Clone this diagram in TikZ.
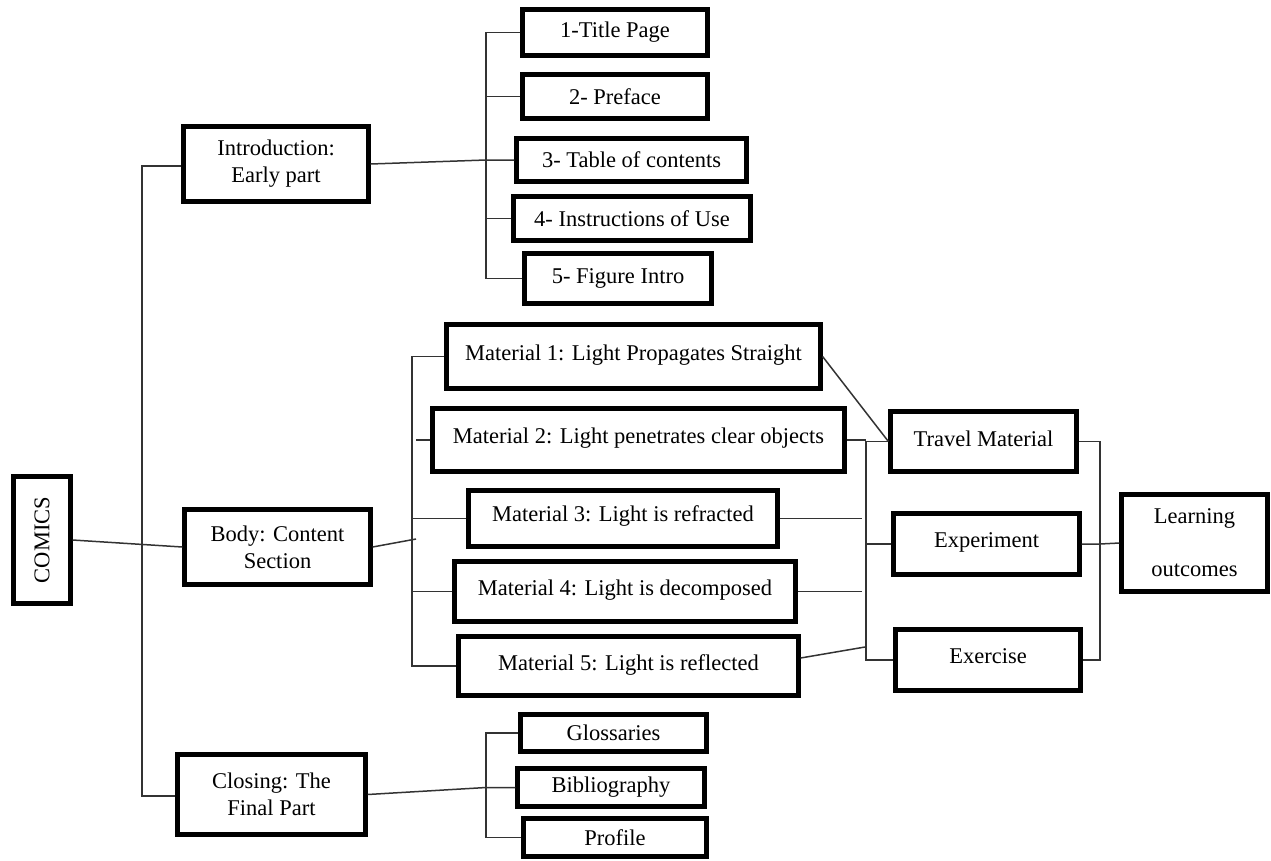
\documentclass[tikz,border=0pt]{standalone}
\usepackage{fontspec}
\setmainfont{Liberation Serif}
\usetikzlibrary{calc}
\begin{document}
\begin{tikzpicture}[x=1pt,y=-1pt,
  box/.style={draw=black, line width=4.2pt, inner sep=0pt, font=\fontsize{22.5}{27}\selectfont, align=center},
  conn/.style={line width=1.5pt, draw=black!80}]
\useasboundingbox (0,0) rectangle (1271,860);

% root
\node[box, rotate=90, minimum width=127pt, minimum height=57pt] (comics) at (42,540) {COMICS};

% main parts
\node[box, minimum width=185pt, minimum height=75pt] (intro) at (276,164) {Introduction:\\Early part};
\node[box, minimum width=186pt, minimum height=75pt] (body) at (277.5,547) {Body: Content\\Section};
\node[box, minimum width=188pt, minimum height=80pt] (closing) at (271.5,794.5) {Closing: The\\Final Part};

% introduction children
\node[box, minimum width=185pt, minimum height=46pt] (t1) at (615,32.5) {1-Title Page};
\node[box, minimum width=185pt, minimum height=44pt] (t2) at (615,96.5) {2- Preface};
\node[box, minimum width=230pt, minimum height=43pt] (t3) at (631.5,160) {3- Table of contents};
\node[box, minimum width=237pt, minimum height=44pt] (t4) at (632,218.5) {4- Instructions of Use};
\node[box, minimum width=187pt, minimum height=50pt] (t5) at (618,278.5) {5- Figure Intro};

% body children
\node[box, minimum width=374pt, minimum height=64pt] (m1) at (633.5,356.5) {\raisebox{8pt}{Material 1: Light Propagates Straight}};
\node[box, minimum width=412pt, minimum height=63pt] (m2) at (638.5,440) {\raisebox{8pt}{Material 2: Light penetrates clear objects}};
\node[box, minimum width=309pt, minimum height=56pt] (m3) at (623,518.5) {\raisebox{9pt}{Material 3: Light is refracted}};
\node[box, minimum width=341pt, minimum height=60pt] (m4) at (625,591.5) {\raisebox{8pt}{Material 4: Light is decomposed}};
\node[box, minimum width=340pt, minimum height=59pt] (m5) at (628.5,666) {\raisebox{6pt}{Material 5: Light is reflected}};

% activities
\node[box, minimum width=186pt, minimum height=60pt] (travel) at (983.5,441.5) {\raisebox{6pt}{Travel Material}};
\node[box, minimum width=186pt, minimum height=61pt] (exper) at (986.5,544) {\raisebox{7pt}{Experiment}};
\node[box, minimum width=185pt, minimum height=61pt] (exer) at (988,660) {\raisebox{8pt}{Exercise}};
\node[box, minimum width=146pt, minimum height=97pt] (learn) at (1194.5,543) {Learning\\[26pt]outcomes};

% closing children
\node[box, minimum width=186pt, minimum height=37pt] (glos) at (613.5,733) {Glossaries};
\node[box, minimum width=187pt, minimum height=38pt] (bib) at (611,787.5) {Bibliography};
\node[box, minimum width=183pt, minimum height=38pt] (prof) at (615,837.5) {Profile};

% bracket coordinates
\coordinate (lb1) at (142,166);
\coordinate (lb2) at (142,796);
\coordinate (ibx) at (486,0);
\coordinate (bx) at (412,0);
\coordinate (m2s) at (416,440);
\coordinate (bj) at (416,539);
\coordinate (rx) at (866,0);
\coordinate (r3x) at (862,0);
\coordinate (r5) at (865,647);
\coordinate (lx) at (1100,0);
\coordinate (cx) at (486,0);

% left bracket
\draw[conn] (lb1 -| intro.west) -- (lb1) -- (lb2) -- (lb2 -| closing.west);
\draw[conn] (comics.south) -- (body.west);

% introduction bracket
\draw[conn] (t1.west) -- (t1.west -| ibx) -- (t5.west -| ibx) -- (t5.west);
\draw[conn] (t2.west) -- (t2.west -| ibx);
\draw[conn] (t4.west) -- (t4.west -| ibx);
\draw[conn] (intro.east) -- (t3.west -| ibx) -- (t3.west);

% body bracket
\draw[conn] (m1.west) -- (m1.west -| bx) -- (m5.west -| bx) -- (m5.west);
\draw[conn] (m2.west) -- (m2s);
\draw[conn] (m3.west) -- (m3.west -| bx);
\draw[conn] (m4.west) -- (m4.west -| bx);
\draw[conn] (body.east) -- (bj);

% materials to activities
\draw[conn] (m1.east) -- (travel.west);
\draw[conn] (travel.west) -- (travel.west -| rx) -- (exer.west -| rx) -- (exer.west);
\draw[conn] (m2.east) -- (m2.east -| rx);
\draw[conn] (exper.west) -- (exper.west -| rx);
\draw[conn] (m3.east) -- (m3.east -| r3x);
\draw[conn] (m4.east) -- (m4.east -| r3x);
\draw[conn] ($(m5.east)+(0,-8)$) -- (r5);

% activities to outcomes
\draw[conn] (travel.east) -- (travel.east -| lx) -- (exer.east -| lx) -- (exer.east);
\draw[conn] (exper.east) -- (exper.east -| lx) -- (learn.west);

% closing bracket
\draw[conn] (glos.west) -- (glos.west -| cx) -- (prof.west -| cx) -- (prof.west);
\draw[conn] (closing.east) -- (bib.west -| cx) -- (bib.west);
\end{tikzpicture}
\end{document}
